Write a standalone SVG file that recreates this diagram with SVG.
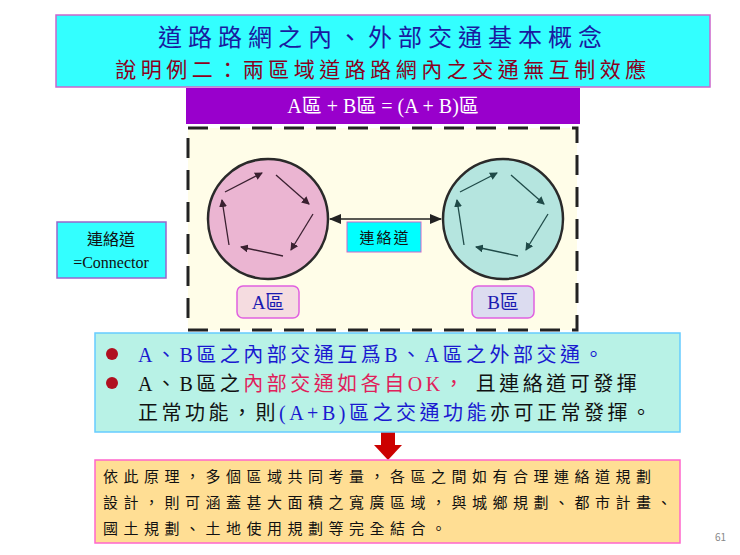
<svg xmlns="http://www.w3.org/2000/svg" width="740" height="555" viewBox="0 0 740 555">
<style>
.cjk{font-family:"Liberation Serif","Noto Sans CJK TC",serif}
.sans{font-family:"Noto Sans CJK TC",sans-serif}
.ar{fill:none;stroke:#3a2030;stroke-width:1.3}
</style>
<defs>
<marker id="ah" markerWidth="8" markerHeight="8" refX="7" refY="4" orient="auto" markerUnits="userSpaceOnUse"><path d="M0,0 L8,4 L0,8 Z" fill="#3a2030"/></marker>
<marker id="ab" markerWidth="8" markerHeight="8" refX="7" refY="4" orient="auto" markerUnits="userSpaceOnUse"><path d="M0,0 L8,4 L0,8 Z" fill="#1f4a48"/></marker>
<marker id="cn" markerWidth="12" markerHeight="10" refX="11" refY="5" orient="auto-start-reverse" markerUnits="userSpaceOnUse"><path d="M0,0 L12,5 L0,10 Z" fill="#222"/></marker>
<g id="pent">
<path d="M-43,-27 L-6,-46"/><path d="M8,-44 L41,-15"/><path d="M45,-5 L23,31"/><path d="M15,37 L-27,28"/><path d="M-39,26 L-46,-19"/>
</g>
</defs>
<rect width="740" height="555" fill="#fff"/>
<g id="title">
<rect x="56" y="15" width="654" height="72" fill="#33FFFF" stroke="#CC66CC" stroke-width="1.5"/>
<text x="383" y="46" text-anchor="middle" class="cjk" font-size="24" letter-spacing="6" fill="#1a1aa0">道路路網之內、外部交通基本概念</text>
<text x="383" y="77" text-anchor="middle" class="cjk" font-size="21" letter-spacing="4.5" fill="#8B0020">說明例二：兩區域道路路網內之交通無互制效應</text>
</g>
<g id="header">
<rect x="186" y="88" width="394" height="36" fill="#9900CC"/>
<text x="383" y="113" text-anchor="middle" class="cjk" font-size="20" fill="#fff">A區 + B區 = (A + B)區</text>
</g>
<g id="frame">
<rect x="188" y="128" width="389" height="202" fill="#FFFDE8" stroke="#222" stroke-width="3" stroke-dasharray="20,12"/>
</g>
<g id="zoneA">
<circle cx="268" cy="219" r="60" fill="#EBB5D2" stroke="#2a2a2a" stroke-width="2.5"/>
<g transform="translate(268,219)" class="ar" stroke="#3a2030">
<use href="#pent" marker-end="url(#ah)"/>
</g>
</g>
<g id="zoneB">
<circle cx="503" cy="219" r="60" fill="#B5E5DF" stroke="#2a2a2a" stroke-width="2.5"/>
<g transform="translate(503,219)" fill="none" stroke="#1f4a48" stroke-width="1.3">
<use href="#pent" marker-end="url(#ab)"/>
</g>
</g>
<g id="connectors">
<line x1="330" y1="219" x2="441" y2="219" stroke="#222" stroke-width="1.5" marker-start="url(#cn)" marker-end="url(#cn)"/>
<rect x="381" y="432" width="14" height="14" fill="#CC0000"/>
<path d="M374,445 L402,445 L388,460 Z" fill="#CC0000"/>
</g>
<g id="connLabel">
<rect x="347" y="222" width="74" height="30" fill="#00FFFF" stroke="#CC66CC"/>
<text x="385" y="243" text-anchor="middle" class="sans" font-size="15" letter-spacing="2" fill="#111">連絡道</text>
</g>
<g id="labelA">
<rect x="237" y="286" width="62" height="32" rx="6" fill="#F5DCE0" stroke="#E060E0" stroke-width="1.5"/>
<text x="268" y="309" text-anchor="middle" class="cjk" font-size="19" fill="#1a1ab0">A區</text>
</g>
<g id="labelB">
<rect x="472" y="286" width="62" height="32" rx="6" fill="#DCDCF0" stroke="#E060E0" stroke-width="1.5"/>
<text x="503" y="309" text-anchor="middle" class="cjk" font-size="19" fill="#1a1ab0">B區</text>
</g>
<g id="legend">
<rect x="57" y="222" width="109" height="56" fill="#33FFFF" stroke="#9966CC" stroke-width="1.5"/>
<text x="111" y="245" text-anchor="middle" class="cjk" font-size="16" fill="#111">連絡道</text>
<text x="111" y="268" text-anchor="middle" class="cjk" font-size="16" fill="#111">=Connector</text>
</g>
<g id="bullets">
<rect x="95" y="333" width="585" height="99" fill="#B8F2E6" stroke="#66CCFF" stroke-width="1.5"/>
<circle cx="112" cy="354" r="6" fill="#B01020"/>
<circle cx="112" cy="383" r="6" fill="#B01020"/>
<text x="138" y="362" class="cjk" font-size="20" letter-spacing="3.5" fill="#1a1ad0">A、B區之內部交通互爲B、A區之外部交通。</text>
<text x="138" y="391" class="cjk" font-size="20" letter-spacing="3.5" fill="#111">A、B區之<tspan fill="#E0205A">內部交通如各自OK，</tspan> 且連絡道可發揮</text>
<text x="138" y="420" class="cjk" font-size="20" letter-spacing="3.5" fill="#111">正常功能，則<tspan fill="#1a1ad0">(A+B)區之交通功能</tspan>亦可正常發揮。</text>
</g>
<g id="conclusion">
<rect x="95" y="460" width="585" height="83" fill="#FFDE94" stroke="#FF66CC" stroke-width="1.5"/>
<text x="103" y="482" class="sans" font-size="15" letter-spacing="5.5" fill="#111">依此原理，多個區域共同考量，各區之間如有合理連絡道規劃</text>
<text x="103" y="508" class="sans" font-size="15" letter-spacing="5.5" fill="#111">設計，則可涵蓋甚大面積之寬廣區域，與城鄉規劃、都市計畫、</text>
<text x="103" y="534" class="sans" font-size="15" letter-spacing="5.5" fill="#111">國土規劃、土地使用規劃等完全結合。</text>
</g>
<text x="715" y="541" class="sans" font-size="10" fill="#888">61</text>
</svg>
